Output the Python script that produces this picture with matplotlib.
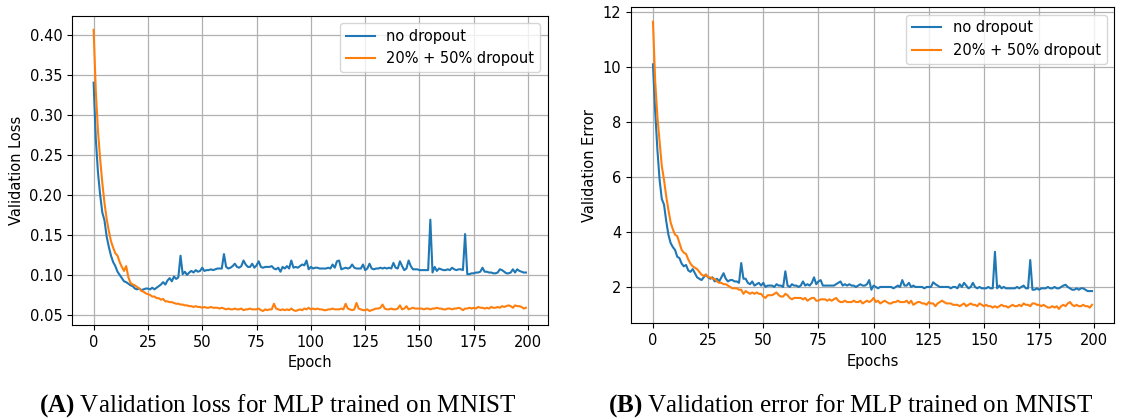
import matplotlib.pyplot as plt
import numpy as np

# validation loss, one value per epoch (0..199)
loss_no_dropout = [
    .340, .270, .228, .200, .178, .168, .148, .135, .124, .116,
    .111, .104, .100, .096, .092, .091, .089, .087, .086, .083,
    .082, .083, .081, .082, .083, .083, .082, .084, .082, .084,
    .086, .088, .091, .088, .093, .096, .092, .098, .095, .097,
    .124, .101, .104, .100, .103, .105, .103, .106, .104, .105,
    .109, .105, .106, .106, .107, .106, .107, .108, .108, .108,
    .126, .110, .108, .109, .111, .114, .110, .109, .111, .118,
    .113, .110, .110, .114, .109, .112, .117, .110, .109, .110,
    .110, .110, .111, .108, .107, .109, .104, .110, .108, .111,
    .108, .118, .109, .110, .109, .111, .113, .112, .118, .107,
    .110, .108, .109, .109, .108, .108, .108, .108, .109, .108,
    .113, .109, .117, .118, .107, .108, .109, .108, .109, .113,
    .109, .108, .108, .108, .113, .106, .108, .114, .108, .107,
    .108, .108, .109, .108, .109, .108, .109, .108, .115, .109,
    .108, .117, .111, .106, .108, .118, .111, .107, .107, .107,
    .106, .106, .106, .106, .106, .169, .103, .110, .105, .108,
    .107, .106, .106, .107, .106, .109, .107, .106, .107, .107,
    .106, .151, .101, .101, .102, .102, .103, .103, .104, .109,
    .104, .104, .103, .103, .102, .102, .103, .107, .106, .104,
    .102, .102, .103, .107, .103, .107, .105, .104, .103, .103,
]
loss_dropout = [
    .406, .330, .280, .245, .215, .190, .170, .155, .142, .134,
    .127, .124, .116, .110, .105, .111, .097, .090, .088, .087,
    .085, .083, .080, .079, .077, .076, .075, .073, .073, .071,
    .071, .069, .070, .067, .067, .066, .066, .065, .064, .064,
    .063, .063, .062, .062, .061, .061, .060, .061, .060, .060,
    .059, .060, .059, .059, .060, .059, .059, .059, .058, .059,
    .058, .057, .058, .057, .057, .058, .057, .057, .058, .056,
    .057, .057, .058, .057, .057, .057, .058, .056, .055, .057,
    .056, .057, .057, .064, .058, .057, .056, .057, .056, .057,
    .056, .058, .056, .055, .056, .057, .056, .058, .057, .059,
    .057, .058, .057, .058, .057, .057, .056, .056, .057, .057,
    .058, .057, .057, .057, .058, .057, .064, .058, .057, .056,
    .057, .065, .058, .057, .056, .056, .057, .055, .056, .057,
    .058, .058, .059, .063, .058, .057, .057, .058, .057, .057,
    .058, .062, .057, .058, .061, .057, .058, .059, .058, .058,
    .058, .058, .057, .058, .058, .057, .058, .058, .059, .058,
    .058, .057, .057, .058, .058, .057, .058, .058, .059, .058,
    .056, .058, .058, .059, .058, .059, .058, .060, .059, .059,
    .058, .059, .058, .060, .059, .059, .060, .059, .061, .060,
    .061, .062, .061, .059, .062, .061, .061, .060, .058, .059,
]

# validation error (%), one value per epoch
err_no_dropout = [
    10.1, 8.4, 7.0, 5.9, 5.2, 5.0, 4.4, 3.9, 3.6, 3.45,
    3.35, 3.1, 3.05, 2.85, 2.75, 2.8, 2.6, 2.55, 2.65, 2.5,
    2.35, 2.3, 2.25, 2.35, 2.45, 2.35, 2.3, 2.35, 2.2, 2.3,
    2.2, 2.35, 2.5, 2.3, 2.2, 2.25, 2.25, 2.2, 2.2, 2.15,
    2.87, 2.3, 2.3, 2.15, 2.1, 2.2, 2.05, 2.1, 2.15, 2.05,
    2.15, 2.0, 2.05, 2.05, 2.05, 2.0, 2.1, 2.05, 2.05, 2.0,
    2.57, 2.05, 2.0, 2.1, 2.05, 2.05, 2.0, 2.05, 2.2, 2.05,
    2.1, 2.05, 2.15, 2.35, 2.1, 2.2, 2.25, 2.05, 2.05, 2.05,
    2.05, 2.05, 2.05, 2.1, 2.15, 2.2, 2.05, 2.1, 2.05, 2.1,
    2.05, 2.05, 2.0, 2.05, 2.1, 2.05, 2.05, 2.1, 2.25, 1.9,
    2.05, 2.0, 1.95, 2.0, 2.0, 2.0, 2.0, 2.0, 2.0, 1.95,
    2.0, 2.05, 2.0, 2.25, 2.05, 2.05, 2.15, 2.0, 2.05, 2.0,
    2.0, 2.0, 2.0, 1.95, 2.0, 2.0, 2.0, 2.17, 2.1, 2.05,
    2.0, 2.0, 2.0, 2.0, 2.0, 1.95, 2.0, 2.0, 1.95, 2.1,
    2.0, 2.15, 2.05, 1.95, 2.0, 2.15, 2.0, 1.95, 2.0, 1.95,
    1.95, 1.95, 2.0, 1.95, 1.95, 3.28, 1.95, 2.05, 1.95, 2.0,
    1.95, 1.95, 1.95, 1.95, 1.95, 2.0, 1.95, 2.0, 2.05, 1.95,
    1.95, 2.98, 1.9, 1.9, 1.95, 1.9, 1.95, 1.95, 1.95, 2.0,
    1.95, 1.95, 2.0, 1.95, 1.95, 2.0, 2.05, 2.08, 2.0, 1.95,
    1.9, 1.9, 1.95, 1.9, 1.95, 1.95, 1.9, 1.85, 1.85, 1.85,
]
err_dropout = [
    11.65, 9.5, 8.2, 7.3, 6.4, 5.9, 5.3, 4.8, 4.35, 4.1,
    3.9, 3.85, 3.6, 3.35, 3.25, 3.2, 3.0, 2.85, 2.75, 2.7,
    2.65, 2.55, 2.45, 2.4, 2.45, 2.35, 2.35, 2.3, 2.3, 2.2,
    2.15, 2.15, 2.1, 2.1, 2.05, 2.0, 1.95, 1.95, 1.95, 1.9,
    1.9, 1.75, 1.85, 1.8, 1.75, 1.8, 1.75, 1.8, 1.75, 1.75,
    1.65, 1.6, 1.7, 1.7, 1.7, 1.75, 1.8, 1.7, 1.65, 1.65,
    1.75, 1.7, 1.6, 1.55, 1.6, 1.6, 1.6, 1.6, 1.55, 1.6,
    1.5, 1.55, 1.6, 1.6, 1.5, 1.5, 1.55, 1.55, 1.55, 1.5,
    1.55, 1.5, 1.55, 1.6, 1.5, 1.45, 1.45, 1.5, 1.45, 1.45,
    1.45, 1.5, 1.45, 1.45, 1.5, 1.4, 1.45, 1.5, 1.45, 1.5,
    1.6, 1.45, 1.5, 1.4, 1.45, 1.5, 1.45, 1.4, 1.4, 1.45,
    1.45, 1.5, 1.45, 1.45, 1.45, 1.5, 1.4, 1.5, 1.35, 1.4,
    1.45, 1.45, 1.4, 1.4, 1.35, 1.45, 1.4, 1.4, 1.3, 1.4,
    1.45, 1.5, 1.45, 1.4, 1.4, 1.4, 1.35, 1.35, 1.35, 1.3,
    1.35, 1.4, 1.3, 1.35, 1.4, 1.35, 1.35, 1.3, 1.4, 1.35,
    1.3, 1.35, 1.3, 1.3, 1.25, 1.3, 1.25, 1.3, 1.35, 1.3,
    1.3, 1.25, 1.3, 1.35, 1.3, 1.3, 1.35, 1.3, 1.4, 1.35,
    1.35, 1.3, 1.4, 1.4, 1.35, 1.35, 1.3, 1.35, 1.3, 1.25,
    1.25, 1.3, 1.25, 1.3, 1.2, 1.3, 1.35, 1.3, 1.4, 1.45,
    1.35, 1.3, 1.35, 1.3, 1.3, 1.35, 1.3, 1.3, 1.25, 1.35,
]

labels = ['no dropout', '20% + 50% dropout']
epochs = np.arange(len(loss_no_dropout))

plt.rcParams['font.size'] = 10.5
plt.rcParams['mathtext.fontset'] = 'custom'
plt.rcParams['mathtext.bf'] = 'Liberation Serif:bold'
plt.rcParams['mathtext.rm'] = 'Liberation Serif'

fig = plt.figure(figsize=(11.25, 4.19), dpi=100)
ax1 = fig.add_axes([0.064, 0.2243, 0.4227, 0.738])
ax2 = fig.add_axes([0.5609, 0.2284, 0.4293, 0.754])

ax1.plot(epochs, loss_no_dropout, label=labels[0], lw=1.5)
ax1.plot(epochs, loss_dropout, label=labels[1], lw=1.5)
ax1.set_xlabel('Epoch')
ax1.set_ylabel('Validation Loss')

ax2.plot(epochs, err_no_dropout, label=labels[0], lw=1.5)
ax2.plot(epochs, err_dropout, label=labels[1], lw=1.5)
ax2.set_xlabel('Epochs')
ax2.set_ylabel('Validation Error')

for ax in (ax1, ax2):
    ax.grid(True, lw=0.9)
    ax.legend(loc='upper right')

cap = dict(family='Liberation Serif', fontsize=18, ha='center', va='center')
fig.text(0.247, 0.032, r'$\mathbf{(A)}$ Validation loss for MLP trained on MNIST', **cap)
fig.text(0.756, 0.032, r'$\mathbf{(B)}$ Validation error for MLP trained on MNIST', **cap)

plt.savefig('out.png', dpi=100)
